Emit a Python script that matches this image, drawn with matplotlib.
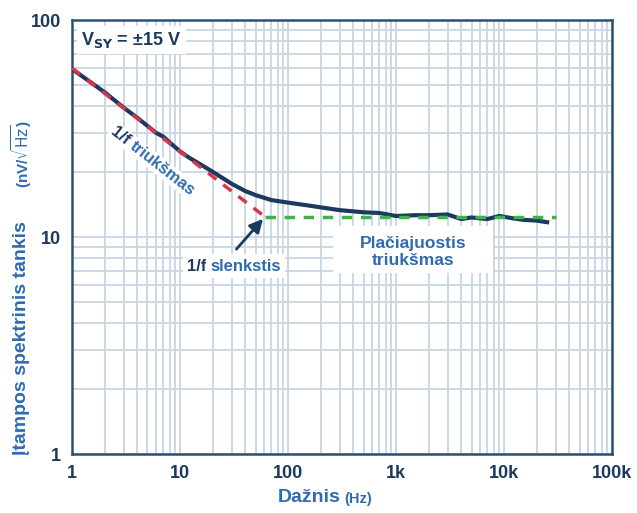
import matplotlib
matplotlib.use("Agg")
import matplotlib.pyplot as plt
from matplotlib.patches import Rectangle

# measured voltage noise density
freq = [1, 1.5, 2, 3, 4, 5, 6, 7, 8, 10, 12, 15, 20, 30, 40, 50, 70, 100,
        150, 200, 300, 500, 700, 1000, 1500, 2000, 3000, 4000, 5000, 7000,
        9000, 12000, 15000, 20000, 25000]
noise = [59.5, 51.5, 46.5, 39.5, 35.5, 32.5, 30.2, 29.0, 27.3, 24.8, 23.3,
         21.8, 20.0, 17.6, 16.3, 15.6, 14.8, 14.4, 14.0, 13.7, 13.3, 13.0,
         12.9, 12.5, 12.6, 12.6, 12.7, 12.1, 12.3, 12.1, 12.5, 12.2, 12.0,
         11.9, 11.7]

# 1/f asymptote and white noise floor
f_flicker = [1, 61]
v_flicker = [60, 12.4]
f_white = [61, 30000]
v_white = [12.4, 12.4]

xticks = [1, 10, 100, 1000, 10000, 100000]
xtick_labels = ["1", "10", "100", "1k", "10k", "100k"]
yticks = [1, 10, 100]
ytick_labels = ["1", "10", "100"]

navy = "#1c3a5e"
blue = "#2f6bb0"
gridc = "#c8d5e2"

plt.rcParams['font.family'] = ['Liberation Sans', 'DejaVu Sans']

fig = plt.figure(figsize=(6.37, 5.13), dpi=100)
ax = fig.add_axes([0.113, 0.115, 0.848, 0.846])
ax.set_xscale("log")
ax.set_yscale("log")
ax.set_xlim(1, 100000)
ax.set_ylim(1, 100)

ax.grid(True, which="both", color=gridc, lw=1.3)
ax.set_axisbelow(True)
ax.tick_params(which="both", length=0)
ax.set_xticks(xticks)
ax.set_xticklabels(xtick_labels, fontsize=13, fontweight="bold", color=navy)
ax.set_yticks(yticks)
ax.set_yticklabels(ytick_labels, fontsize=13, fontweight="bold", color=navy)
ax.tick_params(axis="x", pad=8)
ax.tick_params(axis="y", pad=8)
for s in ax.spines.values():
    s.set_color("#2c5078")
    s.set_linewidth(1.8)

ax.plot(freq, noise, color=navy, lw=3, zorder=3)
ax.plot(f_flicker, v_flicker, color="#d8344a", lw=2.5, ls=(0, (3, 2.5)), zorder=4)
ax.plot(f_white, v_white, color="#3db54a", lw=2.5, ls=(0, (3, 2.5)), zorder=4)

box = dict(facecolor="white", edgecolor="none", pad=3)
ax.text(1.22, 81, r"V$_{\mathbf{SY}}$ = ±15 V", fontsize=13, fontweight="bold",
        color=navy, va="center", ha="left", bbox=box, zorder=5)

# rotated label along the 1/f slope
ax.text(3.55, 26.8, "1/f ", fontsize=12, fontweight="bold", color=navy,
        rotation=-38, ha="right", va="center", rotation_mode="anchor",
        bbox=dict(facecolor="white", edgecolor="none", pad=1), zorder=2.5)
ax.text(3.55, 26.8, "triukšmas", fontsize=12, fontweight="bold", color=blue,
        rotation=-38, ha="left", va="center", rotation_mode="anchor",
        bbox=dict(facecolor="white", edgecolor="none", pad=1), zorder=2.5)

ax.text(17.5, 7.35, "1/f", fontsize=12, fontweight="bold", color=navy,
        ha="right", va="center", bbox=box, zorder=5)
ax.text(19, 7.35, "slenkstis", fontsize=12, fontweight="bold", color=blue,
        ha="left", va="center", bbox=box, zorder=5)
ax.annotate("", xy=(61, 12.4), xytext=(32, 8.6),
            arrowprops=dict(arrowstyle="-|>,head_length=0.8,head_width=0.4",
                            color=navy, lw=2), zorder=6)

ax.add_patch(Rectangle((260, 6.85), 7600, 4.4, facecolor="white",
                       edgecolor="none", zorder=2))
ax.text(1450, 8.55, "Plačiajuostis\ntriukšmas", fontsize=12.5, fontweight="bold",
        color=blue, ha="center", va="center", linespacing=1.2, zorder=5)

# axis titles with smaller unit part
fig.text(0.534, 0.03, "Dažnis", fontsize=14, fontweight="bold", color=blue,
         ha="right", va="center")
fig.text(0.54, 0.028, "(Hz)", fontsize=10.5, fontweight="bold", color=blue,
         ha="left", va="center")
fig.text(0.034, 1 - 455 / 513, "Įtampos spektrinis tankis", fontsize=14,
         fontweight="bold", color=blue, rotation=90, ha="center", va="bottom")
fig.text(0.034, 1 - 188 / 513, r"(nV/$\sqrt{\mathrm{Hz}}$)", fontsize=11,
         fontweight="bold", color=blue, rotation=90, ha="center", va="bottom")

fig.savefig("out.png", dpi=100)
